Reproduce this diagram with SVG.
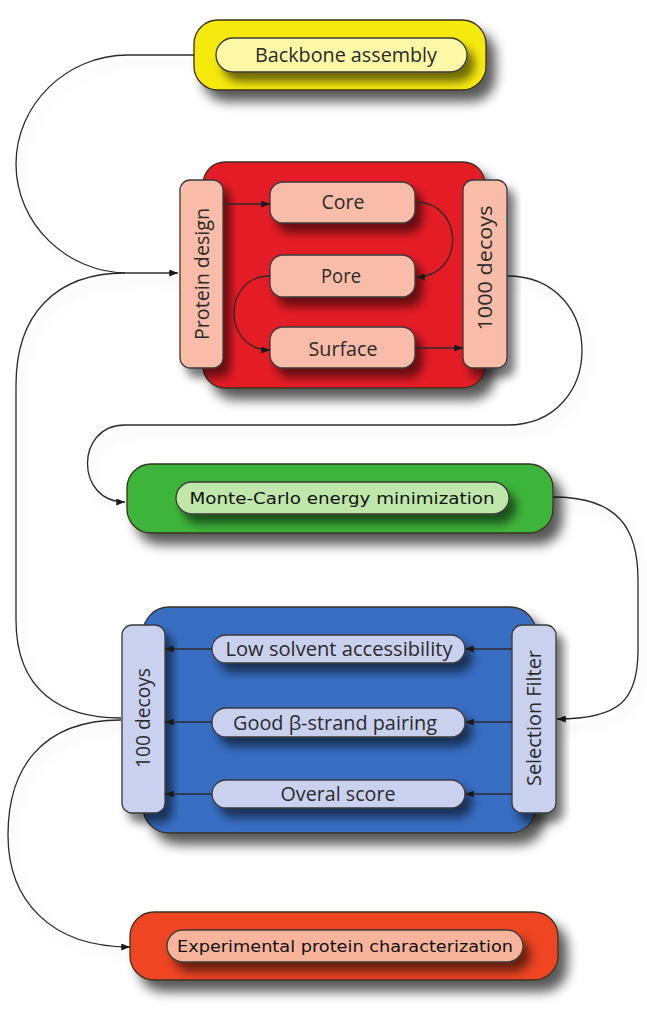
<svg xmlns="http://www.w3.org/2000/svg" width="647" height="1027" viewBox="0 0 647 1027">
<defs>
<filter id="sh" x="-20%" y="-20%" width="150%" height="160%">
<feDropShadow dx="9" dy="11" stdDeviation="6" flood-color="#000" flood-opacity="0.65"/>
</filter>
<filter id="shi" x="-20%" y="-30%" width="150%" height="190%">
<feDropShadow dx="7" dy="9" stdDeviation="5" flood-color="#000" flood-opacity="0.55"/>
</filter>
<filter id="shc" x="-20%" y="-20%" width="150%" height="150%">
<feDropShadow dx="6" dy="8" stdDeviation="6" flood-color="#000" flood-opacity="0.12"/>
</filter>
<marker id="ar" viewBox="0 0 10 8" refX="10" refY="4" markerWidth="9" markerHeight="7" markerUnits="userSpaceOnUse" orient="auto">
<path d="M0,0 L10,4 L0,8 Z" fill="#1a1a1a"/>
</marker>
<style>
.c{fill:none;stroke:#2b2b2b;stroke-width:1.3}
.o{stroke:#3a3020;stroke-width:1.3}
.i{stroke:#3a3a3a;stroke-width:1.3}
.t{font-family:"Open Sans","Liberation Sans",sans-serif;font-size:19.5px;fill:#2a2a2a;text-anchor:middle}
.d{font-family:"DejaVu Sans","Liberation Sans",sans-serif;font-size:16.5px;fill:#111;text-anchor:middle}
</style>
</defs>
<rect width="647" height="1027" fill="#fff"/>

<g id="connectors">
<g filter="url(#shc)">
<path class="c" d="M195,55 H128 C66,55 16,105 16,164 C16,223 66,273 128,273 H178" marker-end="url(#ar)"/>
<path class="c" d="M121,718 C60,718 16,690 16,620 V385 C16,315 55,273 125,273"/>
<path class="c" d="M507,276 C607,276 607,425 507,425 H125 C75,425 75,502 125,502" marker-end="url(#ar)"/>
<path class="c" d="M553,497 C620,497 638,530 638,580 V650 C638,700 620,719 557,719" marker-end="url(#ar)"/>
<path class="c" d="M121,720 C40,720 8,770 8,835 C8,900 50,947 130,947" marker-end="url(#ar)"/>
</g>
</g>

<g id="backbone">
<rect x="194" y="20" width="292" height="70" rx="24" fill="#f6ea0c" class="o" filter="url(#sh)"/>
<rect x="216" y="38" width="251" height="34" rx="17" fill="#fcf8a6" class="i" filter="url(#shi)"/>
<text class="t" x="346" y="62" textLength="182" lengthAdjust="spacingAndGlyphs">Backbone assembly</text>
</g>

<g id="protein-design-block">
<rect x="203" y="162" width="282" height="226" rx="22" fill="#e41e26" class="o" filter="url(#sh)"/>
</g>
<g id="protein-design">
<rect x="180" y="180" width="43" height="188" rx="10" fill="#f9bca8" class="i" filter="url(#shi)"/>
<text class="t" x="202" y="281" transform="rotate(-90 202 274)" textLength="132" lengthAdjust="spacingAndGlyphs">Protein design</text>
</g>
<g id="core">
<rect x="270" y="182" width="145" height="41" rx="13" fill="#f9bca8" class="i" filter="url(#shi)"/>
<text class="t" x="343" y="209" textLength="43" lengthAdjust="spacingAndGlyphs">Core</text>
</g>
<g id="pore">
<rect x="270" y="255" width="145" height="42" rx="13" fill="#f9bca8" class="i" filter="url(#shi)"/>
<text class="t" x="341" y="282.5" textLength="40" lengthAdjust="spacingAndGlyphs">Pore</text>
</g>
<g id="surface">
<rect x="270" y="327" width="145" height="41" rx="13" fill="#f9bca8" class="i" filter="url(#shi)"/>
<text class="t" x="343" y="355.5" textLength="69" lengthAdjust="spacingAndGlyphs">Surface</text>
</g>
<g id="decoys-1000">
<rect x="463" y="180" width="44" height="188" rx="10" fill="#f9bca8" class="i" filter="url(#shi)"/>
<text class="t" x="485" y="275" transform="rotate(-90 485 268)" textLength="125" lengthAdjust="spacingAndGlyphs">1000 decoys</text>
</g>
<g id="inner-red-connectors">
<path class="c" d="M223,204 H270" marker-end="url(#ar)"/>
<path class="c" d="M415,202 C465,202 465,277 416,277" marker-end="url(#ar)"/>
<path class="c" d="M270,276 C222,276 222,350 270,350" marker-end="url(#ar)"/>
<path class="c" d="M415,348 H463" marker-end="url(#ar)"/>
</g>

<g id="monte-carlo">
<rect x="127" y="464" width="426" height="69" rx="24" fill="#3db53b" class="o" filter="url(#sh)"/>
<rect x="176" y="482" width="333" height="32" rx="16" fill="#bfe7a9" class="i" filter="url(#shi)"/>
<text class="d" x="342" y="504" textLength="305" lengthAdjust="spacingAndGlyphs">Monte-Carlo energy minimization</text>
</g>

<g id="selection-block">
<rect x="143" y="607" width="393" height="226" rx="26" fill="#386dc2" class="o" filter="url(#sh)"/>
</g>
<g id="low-solvent">
<rect x="212" y="635" width="253" height="28" rx="14" fill="#c9d1ef" class="i" filter="url(#shi)"/>
<text class="t" x="339" y="656" textLength="227" lengthAdjust="spacingAndGlyphs">Low solvent accessibility</text>
</g>
<g id="beta-strand">
<rect x="212" y="708" width="253" height="29" rx="14" fill="#c9d1ef" class="i" filter="url(#shi)"/>
<text class="t" x="335" y="729.5" textLength="204" lengthAdjust="spacingAndGlyphs">Good β-strand pairing</text>
</g>
<g id="overal-score">
<rect x="212" y="780" width="253" height="28" rx="14" fill="#c9d1ef" class="i" filter="url(#shi)"/>
<text class="t" x="338" y="801" textLength="115" lengthAdjust="spacingAndGlyphs">Overal score</text>
</g>
<g id="decoys-100">
<rect x="122" y="625" width="43" height="188" rx="10" fill="#c9d1ef" class="i" filter="url(#shi)"/>
<text class="t" x="143" y="725" transform="rotate(-90 143 718)" textLength="100" lengthAdjust="spacingAndGlyphs">100 decoys</text>
</g>
<g id="selection-filter">
<rect x="512" y="625" width="44" height="188" rx="10" fill="#c9d1ef" class="i" filter="url(#shi)"/>
<text class="t" x="534" y="725" transform="rotate(-90 534 718)" textLength="136" lengthAdjust="spacingAndGlyphs">Selection Filter</text>
</g>
<g id="inner-blue-connectors">
<path class="c" d="M512,649 H465" marker-end="url(#ar)"/>
<path class="c" d="M212,649 H165" marker-end="url(#ar)"/>
<path class="c" d="M512,722 H465" marker-end="url(#ar)"/>
<path class="c" d="M212,722 H165" marker-end="url(#ar)"/>
<path class="c" d="M512,794 H465" marker-end="url(#ar)"/>
<path class="c" d="M212,794 H165" marker-end="url(#ar)"/>
</g>

<g id="experimental">
<rect x="130" y="912" width="428" height="68" rx="24" fill="#ee4523" class="o" filter="url(#sh)"/>
<rect x="167" y="930" width="356" height="32" rx="16" fill="#f8b49a" class="i" filter="url(#shi)"/>
<text class="d" x="345" y="952" textLength="336" lengthAdjust="spacingAndGlyphs">Experimental protein characterization</text>
</g>
</svg>
